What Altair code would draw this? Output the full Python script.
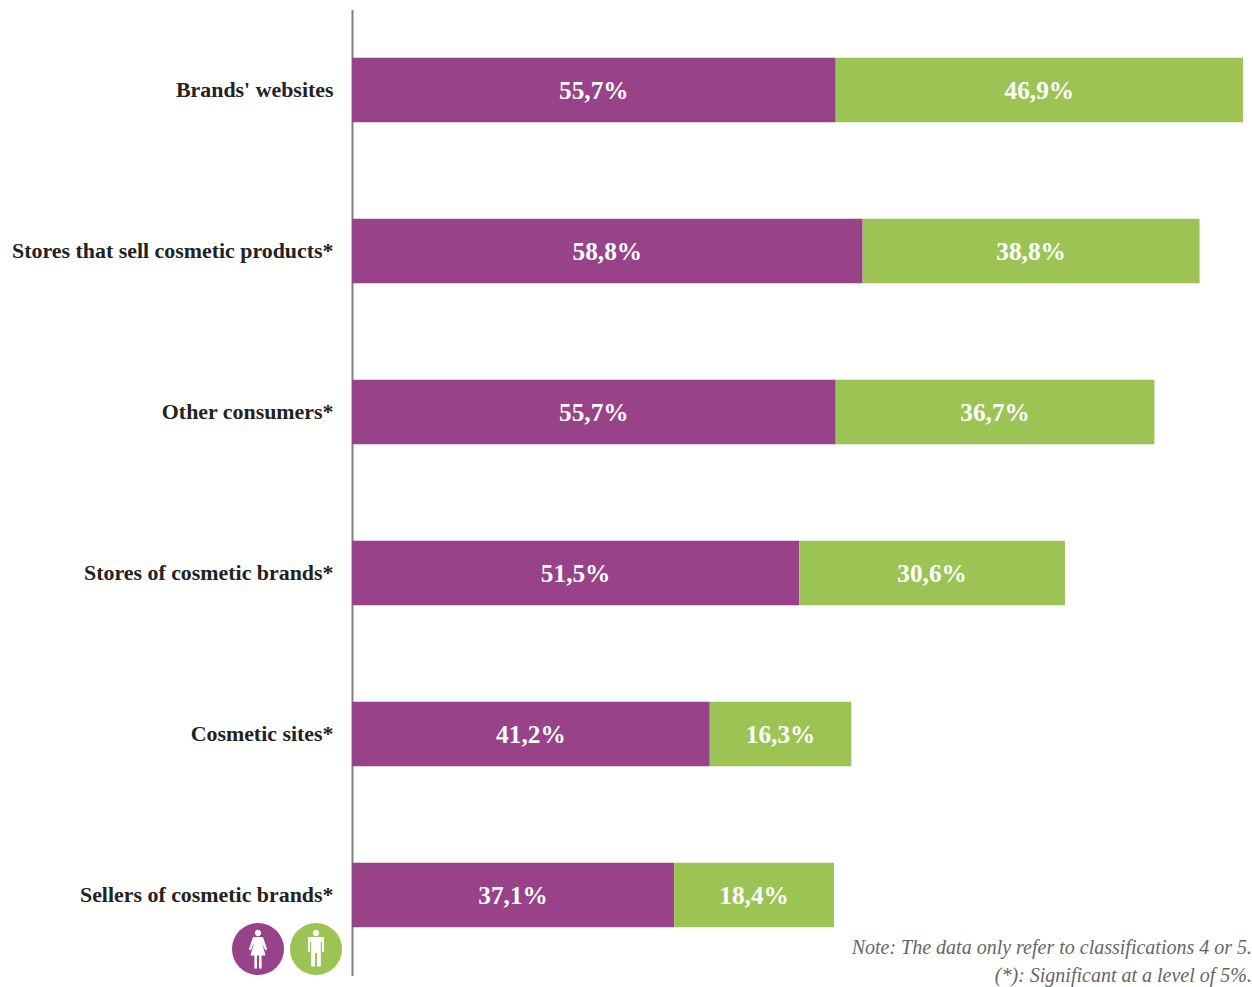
import altair as alt
import pandas as pd

SOURCES = [
    "Brands' websites",
    "Stores that sell cosmetic products*",
    "Other consumers*",
    "Stores of cosmetic brands*",
    "Cosmetic sites*",
    "Sellers of cosmetic brands*",
]
WOMEN = [55.7, 58.8, 55.7, 51.5, 41.2, 37.1]
MEN = [46.9, 38.8, 36.7, 30.6, 16.3, 18.4]
NOTES = [
    "Note: The data only refer to classifications 4 or 5.",
    "(*): Significant at a level of 5%.",
]

PURPLE = "#974289"
GREEN = "#9BC455"
SERIF = "Liberation Serif"

# Pictograms in the unit square that Vega uses for custom symbols
WOMAN_ICON = (
    "M0,-0.96 A0.16,0.16 0 1 1 0,-0.64 A0.16,0.16 0 1 1 0,-0.96 Z "
    "M-0.25,-0.6 L0.25,-0.6 L0.46,0.02 L0.36,0.06 L0.2,-0.3 L0.38,0.33 "
    "L0.18,0.33 L0.18,0.97 L0.05,0.97 L0.05,0.33 L-0.05,0.33 L-0.05,0.97 "
    "L-0.18,0.97 L-0.18,0.33 L-0.38,0.33 L-0.2,-0.3 L-0.36,0.06 L-0.46,0.02 Z"
)
MAN_ICON = (
    "M0,-0.96 A0.16,0.16 0 1 1 0,-0.64 A0.16,0.16 0 1 1 0,-0.96 Z "
    "M-0.4,-0.6 L0.4,-0.6 L0.4,0.14 L0.3,0.14 L0.3,-0.35 L0.24,-0.35 "
    "L0.24,0.88 L0.05,0.88 L0.05,0.2 L-0.05,0.2 L-0.05,0.88 L-0.24,0.88 "
    "L-0.24,-0.35 L-0.3,-0.35 L-0.3,0.14 L-0.4,0.14 Z"
)

rows = []
for source, w, m in zip(SOURCES, WOMEN, MEN):
    rows.append({"source": source, "group": "Women", "rank": 0, "value": w})
    rows.append({"source": source, "group": "Men", "rank": 1, "value": m})
table = pd.DataFrame(rows)
table["label"] = table["value"].map(lambda v: f"{v:.1f}".replace(".", ",") + "%")

x_scale = alt.Scale(domain=[0, 102.6], range=[0, 891], nice=False, zero=True)
y_scale = alt.Scale(domain=SOURCES, paddingInner=0.6, paddingOuter=0.3)
colors = alt.Scale(domain=["Women", "Men"], range=[PURPLE, GREEN])

base = alt.Chart(table).transform_stack(
    stack="value",
    groupby=["source"],
    sort=[alt.SortField("rank", order="ascending")],
    as_=["start", "end"],
).transform_calculate(mid="(datum.start + datum.end) / 2")

bars = base.mark_bar().encode(
    x=alt.X("start:Q", scale=x_scale, axis=None),
    x2="end:Q",
    y=alt.Y(
        "source:N",
        scale=y_scale,
        sort=SOURCES,
        title=None,
        axis=alt.Axis(
            domainColor="#808080",
            domainWidth=2,
            ticks=False,
            labelFont=SERIF,
            labelFontWeight="bold",
            labelFontSize=21.9,
            labelColor="#222222",
            labelPadding=19,
            labelLimit=400,
        ),
    ),
    color=alt.Color("group:N", scale=colors, legend=None),
)

values = base.mark_text(
    font=SERIF, fontWeight="bold", fontSize=25.3, color="white", baseline="middle", dy=1
).encode(
    x=alt.X("mid:Q", scale=x_scale),
    y=alt.Y("source:N", scale=y_scale, sort=SOURCES),
    text="label:N",
)


def badge(colour, icon, centre):
    """A coloured disc with a white pictogram, placed left of the bars."""
    anchor = alt.Chart(pd.DataFrame({"k": [0]}))
    disc = anchor.mark_point(
        shape="circle", filled=True, size=2704, color=colour, opacity=1
    ).encode(x=alt.value(centre), y=alt.value(939.5))
    figure = anchor.mark_point(
        shape=icon, filled=True, size=1600, color="white", opacity=1
    ).encode(x=alt.value(centre), y=alt.value(939.5))
    return [disc, figure]


def note_line(text, top):
    return alt.Chart(pd.DataFrame({"note": [text]})).mark_text(
        font=SERIF, fontStyle="italic", fontSize=20, color="#666666",
        align="right", baseline="middle",
    ).encode(x=alt.value(900), y=alt.value(top), text="note:N")


chart = (
    alt.layer(
        bars,
        values,
        *badge(PURPLE, WOMAN_ICON, -94),
        *badge(GREEN, MAN_ICON, -36),
        note_line(NOTES[0], 938.5),
        note_line(NOTES[1], 966.5),
    )
    .properties(
        width=891,
        height=966,
        autosize=alt.AutoSizeParams(type="none"),
        padding={"left": 352, "top": 9.5, "right": 9, "bottom": 11},
        background="white",
    )
    .configure_view(stroke=None)
)

chart.save("out.html", embed_options={"renderer": "svg", "actions": False})
